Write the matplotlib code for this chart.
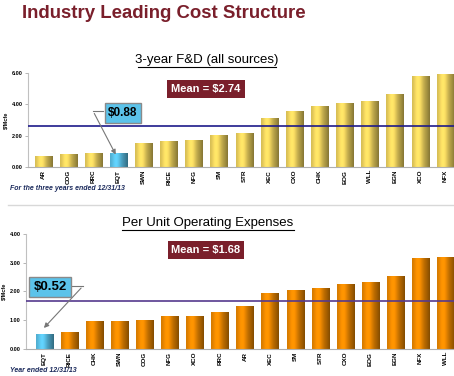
import matplotlib
matplotlib.use("Agg")
import matplotlib.pyplot as plt
import numpy as np
from matplotlib.lines import Line2D
from matplotlib.colors import to_rgb

plt.rcParams['font.family'] = ['Liberation Sans', 'DejaVu Sans']

# 3-year F&D (all sources), $/Mcfe
fd_names = ["AR", "COG", "RRC", "EQT", "SWN", "RICE", "NFG", "SM", "STR",
            "XEC", "CXO", "CHK", "EOG", "WLL", "EGN", "XCO", "NFX"]
fd_values = [0.70, 0.80, 0.87, 0.88, 1.55, 1.65, 1.72, 2.03, 2.14,
             3.11, 3.56, 3.86, 4.09, 4.22, 4.64, 5.80, 5.91]
fd_mean = 2.74
fd_mean_line = 2.58

# Per unit operating expenses, $/Mcfe
opex_names = ["EQT", "RICE", "CHK", "SWN", "COG", "NFG", "XCO", "RRC", "AR",
              "XEC", "SM", "STR", "CXO", "EOG", "EGN", "NFX", "WLL"]
opex_values = [0.52, 0.58, 0.97, 0.97, 1.02, 1.16, 1.16, 1.27, 1.49,
               1.94, 2.06, 2.11, 2.25, 2.31, 2.52, 3.16, 3.19]
opex_mean = 1.68

W, H = 454, 376
fig = plt.figure(figsize=(W / 100, H / 100), dpi=100)

def fx(px):
    return px / W

def fy(py):
    return 1 - py / H

darkred = "#7A1F2B"
navy = "#1B2A5C"

# Title
fig.text(fx(22), fy(14), "Industry Leading Cost Structure", fontsize=13.4,
         fontweight="bold", color=darkred, va="center", ha="left")

# separator line
fig.add_artist(Line2D([fx(8), fx(454)], [fy(205), fy(205)], color="#d8d8d8", lw=1))


def underlined_title(text, xc, yc, width):
    fig.text(fx(xc), fy(yc), text, fontsize=9.5, ha="center", va="center")
    fig.add_artist(Line2D([fx(xc - width / 2), fx(xc + width / 2)],
                          [fy(yc + 7), fy(yc + 7)], color="black", lw=0.8))


def shade(color):
    # cylinder-like horizontal gradient: darker left edge, light centre-left, dark right
    base = np.array(to_rgb(color))
    t = np.linspace(0, 1, 40)
    f = 0.85 + 0.25 * np.exp(-((t - 0.35) / 0.25) ** 2) - 0.3 * t ** 3
    rgb = np.clip(base[None, :] * f[:, None], 0, 1)
    return rgb[None, :, :]


def draw_panel(ax, names, values, colors, ymax, ystep, mean_y, line_color):
    x = range(len(names))
    bars = ax.bar(x, values, width=0.68, color=colors, linewidth=0, zorder=2)
    for b, c in zip(bars, colors):
        x0, y0 = b.get_x(), b.get_y()
        im = ax.imshow(shade(c), extent=[x0, x0 + b.get_width(), y0, y0 + b.get_height()],
                       aspect="auto", zorder=2.5, interpolation="bilinear")
        im.set_clip_path(b)
    ax.axhline(mean_y, color=line_color, lw=1.2, zorder=3)
    ax.set_ylim(0, ymax)
    yt = [i * ystep for i in range(int(round(ymax / ystep)) + 1)]
    ax.set_yticks(yt)
    ax.set_yticklabels(["%.2f" % v for v in yt], fontsize=4, fontweight="bold")
    ax.set_xticks(list(x))
    ax.set_xticklabels(names, rotation=90, fontsize=4.5, fontweight="bold")
    ax.set_ylabel("$/Mcfe", fontsize=4, fontweight="bold", labelpad=2)
    for s in ["top", "right"]:
        ax.spines[s].set_visible(False)
    ax.spines["left"].set_color("#c0c0c0")
    ax.spines["bottom"].set_color("#b0b0b0")
    ax.tick_params(axis="both", length=2, width=0.5, color="#999999", pad=2)
    ax.tick_params(axis="x", length=0)


# Top panel
ax1 = fig.add_axes([fx(28), fy(167), fx(426), (167 - 72.7) / H])
fd_colors = ["#5BC3EA" if n == "EQT" else "#F2D660" for n in fd_names]
draw_panel(ax1, fd_names, fd_values, fd_colors, 6.0, 2.0, fd_mean_line, "#1E1A8A")
ax1.set_xlim(-0.6, 16.35)

underlined_title("3-year F&D (all sources)", 207, 60, 138)
fig.text(fx(206), fy(89), "Mean = $%.2f" % fd_mean, fontsize=8, fontweight="bold",
         color="white", ha="center", va="center",
         bbox=dict(boxstyle="square,pad=0.35", fc=darkred, ec="none"))
fig.text(fx(123), fy(113), "$%.2f" % fd_values[fd_names.index("EQT")], fontsize=8.5,
         fontweight="bold", color="black", ha="center", va="center",
         bbox=dict(boxstyle="square,pad=0.3", fc="#5BC3EA", ec="#8a8a8a", lw=1))
fig.add_artist(Line2D([fx(103), fx(93)], [fy(111), fy(111)], color="#777777", lw=0.8))
fig.add_artist(plt.Annotation("", xy=(fx(117), fy(157)), xytext=(fx(93), fy(111)),
                              xycoords="figure fraction", textcoords="figure fraction",
                              arrowprops=dict(arrowstyle="-|>", color="#777777", lw=0.8,
                                              mutation_scale=7)))
fig.text(fx(10), fy(189), "For the three years ended 12/31/13", fontsize=5,
         fontstyle="italic", fontweight="bold", color=navy, va="center")

# Bottom panel
ax2 = fig.add_axes([fx(26), fy(349), fx(428), (349 - 233.7) / H])
opex_colors = ["#5BC3EA" if n == "EQT" else "#F08A00" for n in opex_names]
draw_panel(ax2, opex_names, opex_values, opex_colors, 4.0, 1.0, opex_mean, "#553A8E")
ax2.set_xlim(-0.72, 16.33)

underlined_title("Per Unit Operating Expenses", 208, 223, 172)
fig.text(fx(206), fy(250), "Mean = $%.2f" % opex_mean, fontsize=8, fontweight="bold",
         color="white", ha="center", va="center",
         bbox=dict(boxstyle="square,pad=0.35", fc=darkred, ec="none"))
fig.text(fx(50), fy(287), "$%.2f" % opex_values[opex_names.index("EQT")], fontsize=9.5,
         fontweight="bold", color="black", ha="center", va="center",
         bbox=dict(boxstyle="square,pad=0.3", fc="#5BC3EA", ec="#8a8a8a", lw=1))
fig.add_artist(Line2D([fx(71), fx(83)], [fy(286), fy(286)], color="#777777", lw=0.8))
fig.add_artist(plt.Annotation("", xy=(fx(42), fy(330)), xytext=(fx(83), fy(286)),
                              xycoords="figure fraction", textcoords="figure fraction",
                              arrowprops=dict(arrowstyle="-|>", color="#777777", lw=0.8,
                                              mutation_scale=7)))
fig.text(fx(10), fy(371), "Year ended 12/31/13", fontsize=5,
         fontstyle="italic", fontweight="bold", color=navy, va="center")

fig.savefig("out.png", dpi=100)
